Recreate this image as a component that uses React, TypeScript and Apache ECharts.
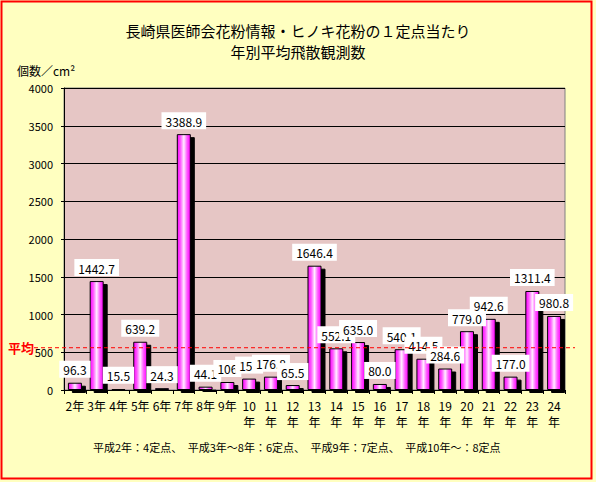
import React, { useEffect, useRef } from "react";
import * as echarts from "echarts";

const CATEGORIES = ["2年","3年","4年","5年","6年","7年","8年","9年","10年","11年","12年","13年","14年","15年","16年","17年","18年","19年","20年","21年","22年","23年","24年"];
const VALUES = [96.3,1442.7,15.5,639.2,24.3,3388.9,44.1,106,151,176.8,65.5,1646.4,552.1,635.0,80.0,540.1,414.5,284.6,779.0,942.6,177.0,1311.4,980.8];
const LABEL_DIGITS = [1,1,1,1,1,1,1,0,0,1,1,1,1,1,1,1,1,1,1,1,1,1,1];
const AVERAGE = 560;
const Y_MIN = 0;
const Y_MAX = 4000;
const Y_STEP = 500;
const TITLE = "長崎県医師会花粉情報・ヒノキ花粉の１定点当たり\n年別平均飛散観測数";
const Y_NAME = "個数／cm²";
const AVG_LABEL = "平均";
const FOOTNOTE = "平成2年：4定点、　平成3年～8年：6定点、　平成9年：7定点、　平成10年～：8定点";

const FONT = "'Noto Sans CJK JP', sans-serif";

export default function App() {
  const ref = useRef<HTMLDivElement>(null);
  useEffect(() => {
    if (!ref.current) return;
    const chart = echarts.init(ref.current, null, { renderer: "svg" });
    const barColor = new echarts.graphic.LinearGradient(0, 0, 1, 0, [
      { offset: 0, color: "#FF00FF" },
      { offset: 0.25, color: "#FF5CFF" },
      { offset: 0.5, color: "#FFEEFF" },
      { offset: 0.75, color: "#FF5CFF" },
      { offset: 1, color: "#FF00FF" },
    ]);
    chart.setOption({
      animation: false,
      backgroundColor: "#FFFFC0",
      textStyle: { fontFamily: FONT },
      title: {
        text: TITLE,
        left: "center",
        top: 15,
        textStyle: { fontSize: 15, fontWeight: "normal", color: "#000", lineHeight: 21, fontFamily: FONT },
      },
      grid: { left: 64, right: 31, top: 88, bottom: 92, show: true, backgroundColor: "#E6C6C5", borderColor: "#808080", borderWidth: 1 },
      xAxis: {
        type: "category",
        data: CATEGORIES,
        axisLine: { lineStyle: { color: "#000", width: 1 } },
        axisTick: { show: true, length: 4, lineStyle: { color: "#000" } },
        axisLabel: {
          interval: 0,
          fontSize: 12,
          color: "#000",
          margin: 7,
          lineHeight: 16,
          formatter: (v: string) => (v.length > 2 ? v.replace("年", "\n年") : v),
        },
      },
      yAxis: {
        type: "value",
        min: Y_MIN,
        max: Y_MAX,
        interval: Y_STEP,
        axisLine: { show: true, lineStyle: { color: "#000" } },
        axisTick: { show: true, length: 3, lineStyle: { color: "#000" } },
        splitLine: { lineStyle: { color: "#000", width: 1 } },
        axisLabel: { fontSize: 11, color: "#000", margin: 11, formatter: (v: number) => String(v) },
      },
      series: [
        {
          type: "bar",
          data: VALUES,
          barWidth: 14,
          itemStyle: {
            color: barColor,
            borderColor: "#000",
            borderWidth: 1,
            shadowColor: "#000",
            shadowBlur: 0,
            shadowOffsetX: 4,
            shadowOffsetY: 3,
          },
          label: {
            show: true,
            position: "top",
            distance: 5,
            backgroundColor: "#FFFFFF",
            padding: [3, 4, 2, 4],
            fontSize: 12,
            color: "#000",
            fontFamily: FONT,
            formatter: (p: any) => VALUES[p.dataIndex].toFixed(LABEL_DIGITS[p.dataIndex]),
          },
        },
      ],
    });
    const avgY = chart.convertToPixel({ yAxisIndex: 0 }, AVERAGE) as number;
    chart.setOption({
      graphic: [
        {
          type: "rect",
          shape: { x: 1.5, y: 1.5, width: 590, height: 477 },
          style: { fill: "none", stroke: "#FF0000", lineWidth: 2 },
          z: 100,
        },
        {
          type: "text",
          x: 17,
          y: 70,
          style: { text: Y_NAME, fontSize: 12, fill: "#000", fontFamily: FONT, verticalAlign: "middle" },
        },
        {
          type: "line",
          shape: { x1: 34, y1: avgY, x2: 575, y2: avgY },
          style: { stroke: "#FF0000", lineWidth: 1, lineDash: [4, 3] },
          z: 50,
        },
        {
          type: "text",
          x: 8,
          y: avgY,
          style: { text: AVG_LABEL, fontSize: 13, fontWeight: "bold", fill: "#FF0000", fontFamily: FONT, verticalAlign: "middle" },
          z: 50,
        },
        {
          type: "text",
          x: 93,
          y: 447,
          style: { text: FOOTNOTE, fontSize: 11, fill: "#000", fontFamily: FONT, verticalAlign: "middle" },
        },
      ],
    });
    return () => chart.dispose();
  }, []);
  return (
    <div
      ref={ref}
      style={{ position: "absolute", left: 0, top: 0, width: 596, height: 482, background: "#FFFFC0" }}
    />
  );
}
